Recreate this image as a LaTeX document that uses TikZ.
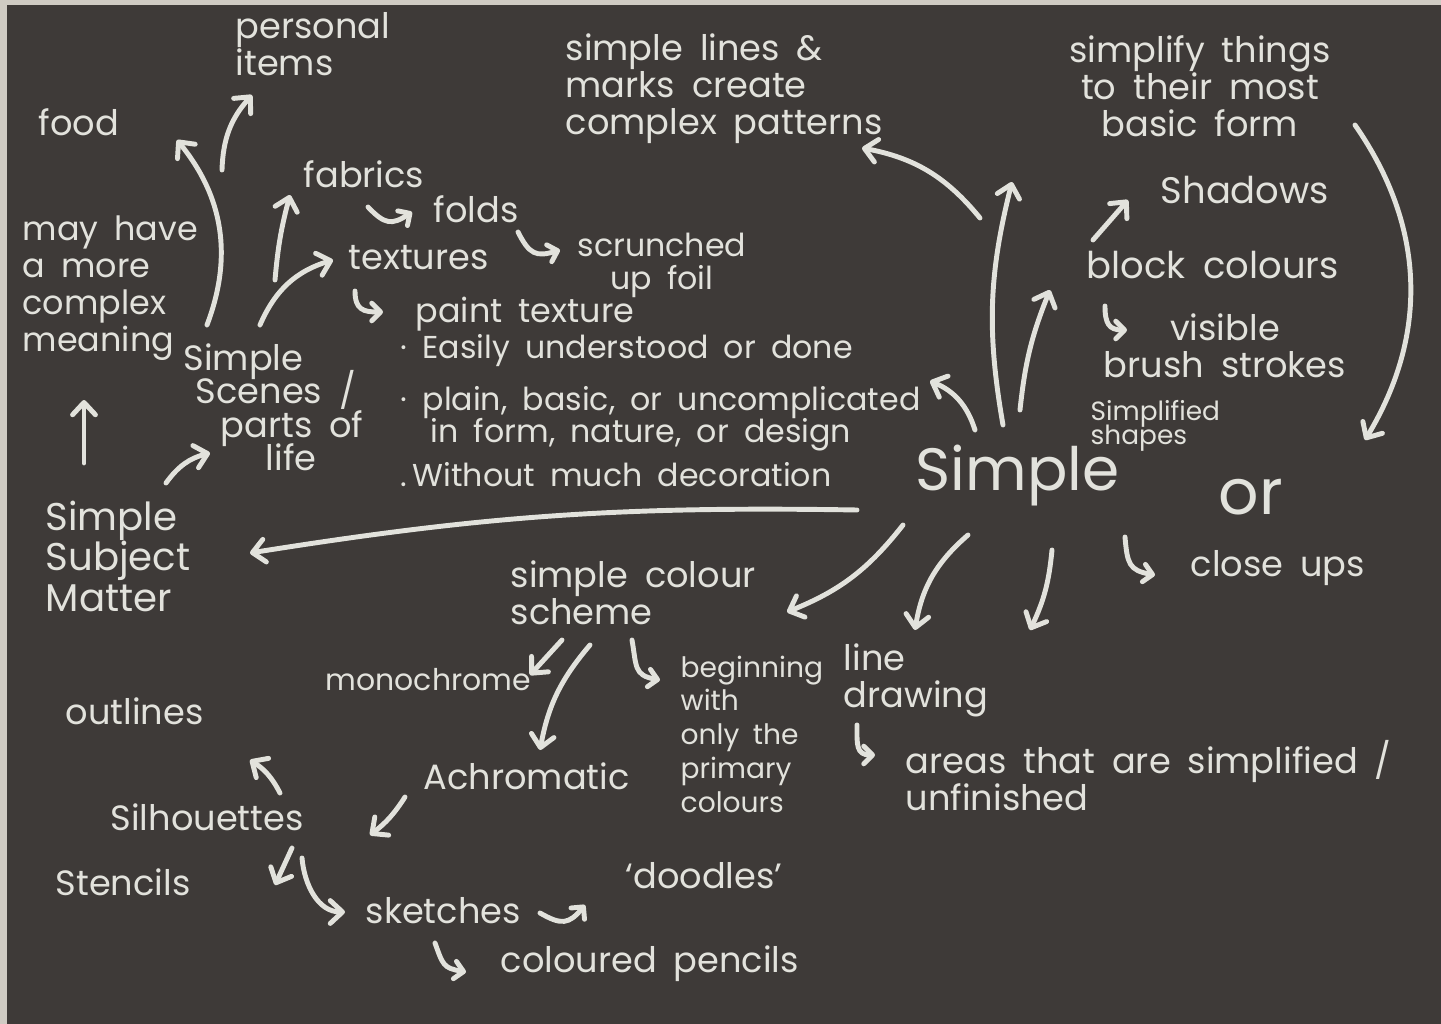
\documentclass[tikz,border=0pt]{standalone}
\usepackage{fontspec}
\setmainfont{Poppins}[WordSpace=1.8]
\usepackage{tikz}
\usetikzlibrary{arrows.meta}

\definecolor{board}{HTML}{3E3A38}
\definecolor{chalkwhite}{HTML}{E2E2DC}
\definecolor{edgegrey}{HTML}{CFCBC3}
\newcommand\chalksize{\fontsize{10}{10.5}\selectfont}

\begin{document}
\begin{tikzpicture}[
  x=0.01cm, y=-0.01cm,
  chalk/.style={text=chalkwhite,inner sep=0pt,anchor=north west,align=left,font=\chalksize,
                execute at begin node={\lineskiplimit=-10pt}},
  arr/.style={draw=chalkwhite,line width=1.4pt,line cap=round,
              -{Straight Barb[length=3.5pt,width=6.5pt,round]}},
  hook/.style={arr,-{Straight Barb[length=2.5pt,width=5pt,round]},looseness=1.4}]

  \useasboundingbox (0,0) rectangle (1441,1024);
  \fill[board] (0,0) rectangle (1441,1024);
  \fill[edgegrey] (0,0) rectangle (1441,5);
  \fill[edgegrey] (0,0) rectangle (7,1024);

  % Upper left
  \node[chalk] (personal) at (235,12)  {personal\\items};
  \node[chalk] (food)     at (38,108)  {food};
  \node[chalk,font=\fontsize{9.5}{10.5}\selectfont] (meaning) at (22,215) {may have\\a more\\complex\\meaning};
  \node[chalk] (fabrics)  at (303,160) {fabrics};
  \node[chalk] (folds)    at (433,195) {folds};
  \node[chalk] (textures) at (348,245) {textures};
  \node[chalk,font=\fontsize{9.5}{10}\selectfont] (paint) at (415,296) {paint texture};
  \node[chalk,align=center,font=\fontsize{9}{9.6}\selectfont] (foil) at (577,232) {scrunched\\up foil};
  \node[chalk] (lines)    at (565,33)  {simple lines \&\\marks create\\complex patterns};
  \node[chalk,font=\fontsize{10}{9.5}\selectfont] (scenes) at (183,343)
    {Simple\\\hspace*{0.12cm}Scenes /\\\hspace*{0.37cm}parts of\\\hspace*{0.82cm}life};
  \node[chalk,font=\fontsize{9}{9.6}\selectfont] (defs) at (400,334) {· Easily understood or done\\[5pt]
    · plain, basic, or uncomplicated\\[-0.5pt]
    \hspace*{0.3cm}in form, nature, or design\\[3pt]
    .\,Without much decoration};

  % Upper right
  \node[chalk,anchor=north,align=center] (basic) at (1200,35) {simplify things\\to their most\\basic form};
  \node[chalk,font=\fontsize{10.5}{12}\selectfont] (shadows) at (1160,175) {Shadows};
  \node[chalk,font=\fontsize{10.5}{12}\selectfont] (block)   at (1086,250) {block colours};
  \node[chalk,anchor=north,align=center] (brush) at (1225,313) {visible\\brush strokes};
  \node[chalk,font=\fontsize{7.5}{6.8}\selectfont] (shapes) at (1090,400) {Simplified\\shapes};

  % Centre
  \node[chalk,font=\fontsize{17}{17}\selectfont] (simple) at (915,444) {Simple};
  \node[chalk,font=\fontsize{18}{18}\selectfont] (or)     at (1218,478) {or};
  \node[chalk] (closeups) at (1190,550) {close ups};
  \node[chalk,font=\fontsize{11}{11.5}\selectfont] (subject) at (45,500) {Simple\\Subject\\Matter};

  % Lower half
  \node[chalk] (scheme)   at (510,560) {simple colour\\scheme};
  \node[chalk,font=\fontsize{8.5}{10}\selectfont] (mono) at (325,668) {monochrome};
  \node[chalk,font=\fontsize{8}{9.6}\selectfont] (primary) at (680,655) {beginning\\with\\only the\\primary\\colours};
  \node[chalk] (linedraw) at (843,643) {line\\drawing};
  \node[chalk] (areas)    at (905,740) {areas that are simplified /\\unfinished};
  \node[chalk] (outlines) at (65,697)  {outlines};
  \node[chalk] (achrom)   at (423,762) {Achromatic};
  \node[chalk] (silh)     at (110,803) {Silhouettes};
  \node[chalk] (stencils) at (55,868)  {Stencils};
  \node[chalk] (sketches) at (365,897) {sketches};
  \node[chalk] (doodles)  at (625,862) {‘doodles’};
  \node[chalk] (pencils)  at (500,945) {coloured pencils};

  % Scenes branch
  \draw[arr] ([shift={(24,-18)}]scenes.north west) to[bend right=30] ([shift={(139,32)}]food.north west);
  \draw[arr] ([shift={(39,-173)}]scenes.north west) to[bend left=20] ([shift={(17,83)}]personal.north west);
  \draw[arr] ([shift={(92,-63)}]scenes.north west) to[bend left=5] ([shift={(-13,35)}]fabrics.north west);
  \draw[arr] ([shift={(77,-18)}]scenes.north west) to[bend left=25] ([shift={(-15,15)}]textures.north west);
  \draw[hook] ([shift={(65,47)}]fabrics.north west) to[bend right=40] ([shift={(-21,17)}]folds.north west);
  \draw[hook] ([shift={(170,-13)}]textures.north west) to[bend right=40] ([shift={(-17,18)}]foil.north west);
  \draw[hook] ([shift={(7,46)}]textures.north west) to[out=-90,in=180] ([shift={(-32,16)}]paint.north west);
  \draw[arr] ([shift={(39,-37)}]subject.north west) -- ([shift={(62,185)}]meaning.north west);
  \draw[arr] ([shift={(121,-17)}]subject.north west) to[bend left=20] ([shift={(27,110)}]scenes.north west);

  % From Simple, upwards
  \draw[arr] ([shift={(-58,66)}]simple.north west) to[bend right=5] ([shift={(205,53)}]subject.north west);
  \draw[arr] ([shift={(65,-226)}]simple.north west) to[bend right=20] ([shift={(297,115)}]lines.north west);
  \draw[arr] ([shift={(60,-14)}]simple.north west) to[bend right=25] ([shift={(530,47)}]defs.north west);
  \draw[arr] ([shift={(88,-19)}]simple.north west) to[bend left=12] ([shift={(-188,147)}]basic.north);
  \draw[arr] ([shift={(105,-34)}]simple.north west) to[bend left=8] ([shift={(-36,40)}]block.north west);
  \draw[arr] ([shift={(7,-10)}]block.north west) -- ([shift={(-32,25)}]shadows.north west);
  \draw[arr] ([shift={(155,90)}]basic.north) to[bend left=33] ([shift={(275,40)}]shapes.north west);
  \draw[hook] ([shift={(19,56)}]block.north west) to[out=-90,in=180] ([shift={(-98,17)}]brush.north);

  % From Simple, downwards
  \draw[arr] ([shift={(-12,81)}]simple.north west) to[bend left=15] ([shift={(277,52)}]scheme.north west);
  \draw[arr] ([shift={(53,91)}]simple.north west) to[bend right=20] ([shift={(72,-13)}]linedraw.north west);
  \draw[arr] ([shift={(137,106)}]simple.north west) to[bend left=10] ([shift={(125,-110)}]areas.north west);
  \draw[hook] ([shift={(210,93)}]simple.north west) to[out=-85,in=170] ([shift={(-35,25)}]closeups.north west);

  % Colour scheme
  \draw[arr] ([shift={(52,80)}]scheme.north west) -- ([shift={(205,7)}]mono.north west);
  \draw[arr] ([shift={(80,85)}]scheme.north west) to[bend right=15] ([shift={(117,-12)}]achrom.north west);
  \draw[hook] ([shift={(122,80)}]scheme.north west) to[out=-80,in=170] ([shift={(-20,25)}]primary.north west);
  \draw[hook] ([shift={(14,82)}]linedraw.north west) to[out=-90,in=180] ([shift={(-30,15)}]areas.north west);

  % Silhouettes
  \draw[arr] ([shift={(170,-10)}]silh.north west) to[bend right=15] ([shift={(185,63)}]outlines.north west);
  \draw[arr] ([shift={(-18,35)}]achrom.north west) to[bend left=10] ([shift={(260,32)}]silh.north west);
  \draw[arr] ([shift={(182,45)}]silh.north west) -- ([shift={(220,17)}]stencils.north west);
  \draw[arr] ([shift={(192,55)}]silh.north west) to[out=-85,in=180] ([shift={(-20,15)}]sketches.north west);
  \draw[hook] ([shift={(175,16)}]sketches.north west) to[bend right=40] ([shift={(-40,43)}]doodles.north west);
  \draw[hook] ([shift={(70,46)}]sketches.north west) to[out=-70,in=170] ([shift={(-34,27)}]pencils.north west);
\end{tikzpicture}
\end{document}
